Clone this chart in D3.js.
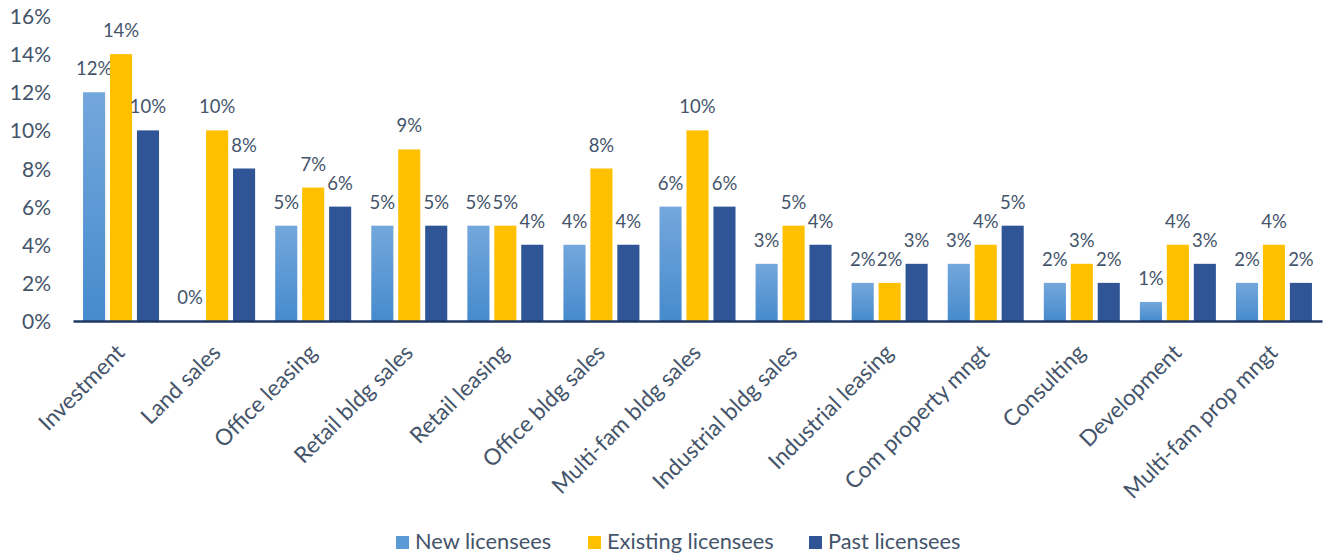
<!DOCTYPE html>
<html><head><meta charset="utf-8">
<script src="https://cdn.jsdelivr.net/npm/d3@7/dist/d3.min.js"></script>
<style>body{margin:0;background:#fff}svg{display:block}text{font-family:Lato,sans-serif;fill:#44546A}</style>
</head><body><svg id="c" width="1327" height="554"></svg>
<script>
const categories=["Investment","Land sales","Office leasing","Retail bldg sales","Retail leasing","Office bldg sales","Multi-fam bldg sales","Industrial bldg sales","Industrial leasing","Com property mngt","Consulting","Development","Multi-fam prop mngt"];
const seriesNames=["New licensees","Existing licensees","Past licensees"];
const newLic=[12,0,5,5,5,4,6,3,2,3,2,1,2];
const existingLic=[14,10,7,9,5,8,10,5,2,4,3,4,4];
const pastLic=[10,8,6,5,4,4,6,4,3,5,2,3,2];
const yTicks=[0,2,4,6,8,10,12,14,16];

const values=[newLic,existingLic,pastLic];
const svg=d3.select("#c");
const defs=svg.append("defs");
const g1=defs.append("linearGradient").attr("id","gNew").attr("x1",0).attr("y1",0).attr("x2",0).attr("y2",1);
g1.append("stop").attr("offset","0%").attr("stop-color","#74A7DC");
g1.append("stop").attr("offset","100%").attr("stop-color","#468BCD");
const fills=["url(#gNew)","#FFC000","#2F5597"];
const legendFills=["#5B9BD5","#FFC000","#2F5597"];

const x0=d3.scaleBand().domain(categories).range([73,1322]);
const x1=d3.scaleBand().domain(seriesNames).range([x0.bandwidth()/2-38,x0.bandwidth()/2+38]).paddingInner(0.18);
const y=d3.scaleLinear().domain([0,16]).range([321,16]);

const ya=svg.append("g").attr("transform","translate(60,0)")
 .call(d3.axisLeft(y).tickValues(yTicks).tickSize(0).tickPadding(0).tickFormat(d=>d+"%"));
ya.select(".domain").remove();
ya.selectAll("text").style("font-size","21px").attr("fill","#44546A").attr("font-family","Lato").attr("x",-9).attr("dy","0.36em");

const groups=svg.append("g").selectAll("g").data(categories).join("g").attr("transform",d=>`translate(${x0(d)},0)`);
seriesNames.forEach((s,si)=>{
  groups.append("rect")
   .attr("x",x1(s)).attr("width",x1.bandwidth())
   .attr("y",(d,i)=>y(values[si][i])).attr("height",(d,i)=>y(0)-y(values[si][i]))
   .attr("fill",fills[si]);
  groups.append("text")
   .attr("x",x1(s)+x1.bandwidth()/2).attr("y",(d,i)=>y(values[si][i])-17)
   .attr("text-anchor","middle").style("font-size","18.5px")
   .text((d,i)=>values[si][i]+"%");
});

const xa=svg.append("g").attr("transform","translate(0,321)")
 .call(d3.axisBottom(x0).tickSize(0).tickPadding(0));
xa.select(".domain").attr("stroke","#203864").attr("stroke-width",2.5);
xa.selectAll("text").style("font-size","22.5px").attr("fill","#44546A").attr("font-family","Lato")
 .attr("text-anchor","end").attr("dy",0).attr("transform","translate(5,33) rotate(-45)").attr("y",0).attr("x",0);

const legX=[396,588,809];
const lg=svg.append("g");
seriesNames.forEach((s,i)=>{
  lg.append("rect").attr("x",legX[i]).attr("y",536).attr("width",13).attr("height",13).attr("fill",legendFills[i]);
  lg.append("text").attr("x",legX[i]+19).attr("y",548.5).style("font-size","21.8px").text(s);
});
</script></body></html>
